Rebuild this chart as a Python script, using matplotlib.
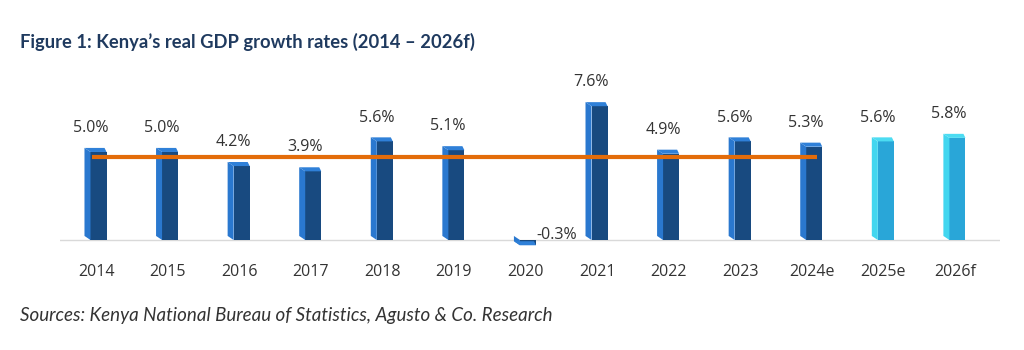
import matplotlib
matplotlib.use("Agg")
import matplotlib.pyplot as plt
from matplotlib.patches import Polygon
import numpy as np

# data
years = ["2014", "2015", "2016", "2017", "2018", "2019", "2020",
         "2021", "2022", "2023", "2024e", "2025e", "2026f"]
growth = [5.0, 5.0, 4.2, 3.9, 5.6, 5.1, -0.3, 7.6, 4.9, 5.6, 5.3, 5.6, 5.8]
forecast = [False] * 11 + [True, True]
avg_years = years[:11]

title = "Figure 1: Kenya\u2019s real GDP growth rates (2014 \u2013 2026f)"
source = "Sources: Kenya National Bureau of Statistics, Agusto & Co. Research"

# colours
front_dark, side_dark, top_dark = "#184a80", "#2a78cf", "#2f80d8"
front_fc, side_fc, top_fc = "#29a6d8", "#42d6ef", "#4cdcf2"
avg_col = "#e36c0a"
txt_col = "#333333"

fig = plt.figure(figsize=(10.24, 3.5), dpi=100)
ax = fig.add_axes([60 / 1024, 1 - 250 / 350, 940 / 1024, 160 / 350])
ax.set_xlim(-0.503, 12.63)
ax.set_ylim(-0.568, 8.52)

# bar geometry in data units (category spacing ~71.6 px, 17.6 px per %)
dx1, dx2, d, dcap, dy = 0.077, 0.147, 0.084, 0.028, 0.23

x = np.arange(len(years))
for xi, h, fc in zip(x, growth, forecast):
    front, side, top = (front_fc, side_fc, top_fc) if fc else (front_dark, side_dark, top_dark)
    ax.add_patch(Polygon([(xi - dx1, 0), (xi + dx2, 0), (xi + dx2, h), (xi - dx1, h)],
                         closed=True, fc=front, ec="none", zorder=2))
    ax.add_patch(Polygon([(xi - dx1 - d, dy), (xi - dx1, 0), (xi - dx1, h), (xi - dx1 - d, h + dy)],
                         closed=True, fc=side, ec="none", zorder=2))
    ax.add_patch(Polygon([(xi - dx1 - d, h + dy), (xi + dx2 - dcap, h + dy), (xi + dx2, h), (xi - dx1, h)],
                         closed=True, fc=top, ec="none", zorder=2))
    if h < 0:
        ax.text(xi + 0.43, -0.15, f"{h:.1f}%", ha="center", va="bottom",
                fontsize=11.5, color=txt_col, family="Open Sans")
    else:
        ax.text(xi - 0.08, h + 0.9, f"{h:.1f}%", ha="center", va="bottom",
                fontsize=11.5, color=txt_col, family="Open Sans")

# average line over actual/estimate years
avg = np.mean(growth[:len(avg_years)])
ax.plot([-0.06, len(avg_years) - 1 + 0.08], [avg, avg], color=avg_col, lw=3,
        solid_capstyle="butt", zorder=3)

ax.axhline(0, color="#d9d9d9", lw=1, zorder=1)
ax.set_xticks(x)
ax.set_xticklabels(years, fontsize=11.5, color=txt_col, family="Open Sans")
ax.tick_params(axis="x", length=0, pad=10)
ax.set_yticks([])
for s in ax.spines.values():
    s.set_visible(False)

fig.text(20 / 1024, 1 - 42 / 350, title, fontsize=13.2, fontweight="bold",
         color="#1f3a5f", family="Lato", va="center", ha="left")
fig.text(20 / 1024, 1 - 315 / 350, source, fontsize=13.5, style="italic",
         color=txt_col, family="Lato", va="center", ha="left")

fig.savefig("out.png", dpi=100)
